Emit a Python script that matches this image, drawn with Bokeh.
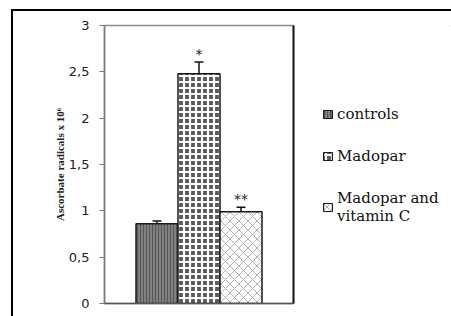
from bokeh.plotting import figure
from bokeh.layouts import row
from bokeh.models import (ColumnDataSource, Range1d, FixedTicker, Whisker, TeeHead,
                          Legend, LegendItem, LinearAxis)
from bokeh.core.properties import value
from bokeh.embed import file_html
from bokeh.resources import INLINE

# ---- data ----
groups = ["controls", "Madopar", "Madopar and vitamin C"]
legend_labels = ["controls", "Madopar", "Madopar and\nvitamin C"]
values = [0.86, 2.48, 0.99]
errors = [0.03, 0.125, 0.05]
marks = ["", "*", "**"]
positions = [1, 2, 3]
y_ticks = [0, 0.5, 1, 1.5, 2, 2.5, 3]
y_tick_labels = ["0", "0,5", "1", "1,5", "2", "2,5", "3"]

styles = [
    dict(fill_color="#808080", hatch_pattern="vertical_line", hatch_color="#555555",
         hatch_scale=3, hatch_weight=1),
    dict(fill_color="#5a5a5a", hatch_pattern="cross",
         hatch_color="white", hatch_scale=6, hatch_weight=2.2),
    dict(fill_color="white", hatch_pattern="diagonal_cross", hatch_color="#b0b0b0",
         hatch_scale=9, hatch_weight=1),
]

LEFT_LINE = "linear-gradient(#000,#000) 11px 9px / 2px calc(100% - 9px) no-repeat"
TOP_LINE_P = "linear-gradient(#000,#000) 11px 9px / calc(100% - 11px) 2px no-repeat"
TOP_LINE_L = "linear-gradient(#000,#000) 0px 9px / 100% 2px no-repeat"

p = figure(width=295, height=316, output_backend="svg", toolbar_location=None,
           x_range=Range1d(-0.25, 4.25), y_range=Range1d(0, 3),
           min_border_left=104, min_border_right=2, min_border_top=25, min_border_bottom=13)
p.xgrid.visible = False
p.ygrid.visible = False
p.outline_line_color = "#8a8a8a"
p.outline_line_width = 1.5
p.background_fill_color = "white"
p.border_fill_color = None
p.styles = {"background": LEFT_LINE + ", " + TOP_LINE_P + ", white"}

# y axis
ya = p.yaxis[0]
ya.ticker = FixedTicker(ticks=y_ticks)
ya.major_label_overrides = {t: l for t, l in zip(y_ticks, y_tick_labels)}
ya.minor_tick_line_color = None
ya.major_tick_in = 0
ya.major_tick_out = 5
ya.major_tick_line_color = "#7a7a7a"
ya.axis_line_color = "#7a7a7a"
ya.axis_line_width = 1.5
ya.major_label_text_font = "DejaVu Sans"
ya.major_label_text_font_size = "13px"
ya.major_label_text_color = "#222222"
ya.major_label_standoff = 10
ya.axis_label = "Ascorbate radicals x 10\u2076"
ya.axis_label_text_font = "Liberation Serif"
ya.axis_label_text_font_style = "bold"
ya.axis_label_text_font_size = "11px"
ya.axis_label_text_color = "#222222"
ya.axis_label_standoff = 0

# x axis: plain line only
xa = p.xaxis[0]
xa.ticker = FixedTicker(ticks=[])
xa.major_label_text_font_size = "0px"
xa.major_tick_line_color = None
xa.minor_tick_line_color = None
xa.axis_line_color = "#555555"
xa.axis_line_width = 1.5

# darker right edge of the plot box
ra = LinearAxis(ticker=FixedTicker(ticks=[]), major_label_text_font_size="0px",
                major_tick_out=0, major_tick_in=0, major_tick_line_color=None,
                minor_tick_line_color=None, axis_line_color="#1a1a1a", axis_line_width=2)
p.add_layout(ra, "right")

# legend panel: a second figure whose frame holds only the legend
leg = figure(width=156, height=316, output_backend="svg", toolbar_location=None,
             x_axis_location=None, y_axis_location=None,
             x_range=Range1d(-10, -9), y_range=Range1d(-10, -9),
             min_border=0, min_border_left=0, min_border_right=0,
             min_border_top=0, min_border_bottom=0)
leg.xgrid.visible = False
leg.ygrid.visible = False
leg.outline_line_color = None
leg.background_fill_color = None
leg.border_fill_color = None
leg.styles = {"background": TOP_LINE_L + ", white"}

items = []
for i in range(len(groups)):
    src = ColumnDataSource(dict(x=[positions[i]], top=[values[i]],
                                upper=[values[i] + errors[i]], lower=[values[i] - errors[i]],
                                mark=[marks[i]]))
    p.vbar(x="x", top="top", width=1.0, source=src, line_color="#1a1a1a",
           line_width=1.5, **styles[i])
    w = Whisker(source=src, base="x", upper="upper", lower="lower",
                line_color="#111111", line_width=1.5,
                upper_head=TeeHead(size=9, line_color="#111111", line_width=1.5),
                lower_head=TeeHead(size=9, line_color="#111111", line_width=1.5))
    p.add_layout(w)
    p.text(x="x", y="upper", text="mark", source=src, text_align="center",
           text_baseline="middle", y_offset=-8, text_font=value("DejaVu Sans"),
           text_font_size="14px", text_color="#222222")
    # same bar, outside this panel's ranges, only to give the legend its swatch
    lr = leg.vbar(x="x", top="top", width=1.0, source=src, line_color="#1a1a1a",
                  line_width=1.2, **styles[i])
    items.append(LegendItem(label=legend_labels[i], renderers=[lr]))

legend = Legend(items=items, location=(27, 78), orientation="vertical",
                background_fill_alpha=0, border_line_color=None,
                padding=0, margin=0, spacing=24, glyph_width=11, glyph_height=10,
                label_standoff=4, label_height=17,
                label_text_font="DejaVu Serif", label_text_font_size="15px",
                label_text_color="#111111", label_text_line_height=1.15)
leg.add_layout(legend, "center")

layout = row(p, leg, spacing=0)
open("out.html", "w").write(file_html(layout, INLINE))
